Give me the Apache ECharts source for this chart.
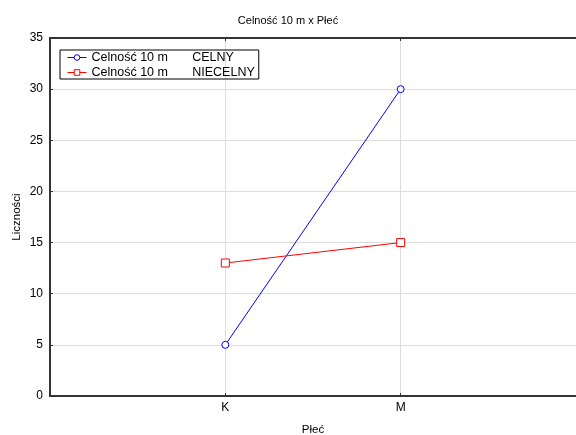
<!DOCTYPE html>
<html>
<head>
<meta charset="utf-8">
<script src="https://cdn.jsdelivr.net/npm/echarts@6/dist/echarts.min.js"></script>
<style>
  html, body { margin: 0; padding: 0; background: #fff; }
  #chart { width: 576px; height: 435px; }
</style>
</head>
<body>
<div id="chart"></div>
<script>
// dane
var categories = ['', 'K', 'M', ''];
var celny = [null, 5, 30, null];
var niecelny = [null, 13, 15, null];
var seriesNames = ['Celność 10 m       CELNY', 'Celność 10 m       NIECELNY'];
var yTicks = [0, 5, 10, 15, 20, 25, 30, 35];

var myChart = echarts.init(document.getElementById('chart'));

var font = 'Liberation Sans, Arial, sans-serif';
// tylko K i M maja linie siatki i znaczniki
var onlyKM = function (i) { return i === 1 || i === 2; };

option = {
  animation: false,
  textStyle: { fontFamily: font, color: '#000' },
  title: {
    text: 'Celność 10 m x Płeć',
    left: 'center',
    top: 10,
    textStyle: { fontFamily: font, fontSize: 11, fontWeight: 'normal', color: '#000' }
  },
  legend: {
    orient: 'vertical',
    left: 60,
    top: 50,
    padding: [1, 4, 0, 7],
    itemGap: 2,
    itemWidth: 19,
    itemHeight: 7,
    borderColor: '#000',
    borderWidth: 1,
    borderRadius: 0,
    lineStyle: { width: 1 },
    itemStyle: { borderWidth: 1 },
    textStyle: { fontFamily: font, fontSize: 12.5, color: '#000' },
    data: seriesNames
  },
  grid: { left: 50, top: 38, right: 0, bottom: 39, containLabel: false, outerBoundsMode: 'none' },
  xAxis: [{
    type: 'category',
    data: categories,
    boundaryGap: false,
    name: 'Płeć',
    nameLocation: 'middle',
    nameGap: 28,
    nameTextStyle: { fontFamily: font, fontSize: 11.5, color: '#000' },
    axisLine: { lineStyle: { color: '#333', width: 2 } },
    axisTick: { inside: true, length: 3, interval: onlyKM, lineStyle: { color: '#333' } },
    axisLabel: { fontFamily: font, fontSize: 12, color: '#000', margin: 6 },
    splitLine: { show: true, interval: onlyKM, lineStyle: { color: '#ddd' } }
  }, {
    type: 'category',
    data: categories,
    boundaryGap: false,
    position: 'top',
    axisLine: { lineStyle: { color: '#333', width: 2 } },
    axisTick: { inside: true, length: 3, interval: onlyKM, lineStyle: { color: '#333' } },
    axisLabel: { show: false },
    splitLine: { show: false }
  }],
  yAxis: {
    type: 'value',
    min: yTicks[0],
    max: yTicks[yTicks.length - 1],
    interval: 5,
    name: 'Liczności',
    nameLocation: 'middle',
    nameGap: 27,
    nameMoveOverlap: false,
    nameTextStyle: { fontFamily: font, fontSize: 11.5, color: '#000' },
    axisLine: { show: true, lineStyle: { color: '#333', width: 2 } },
    axisTick: { show: true, inside: true, length: 3, lineStyle: { color: '#333' } },
    axisLabel: { fontFamily: font, fontSize: 12, color: '#000', margin: 7 },
    splitLine: { show: true, lineStyle: { color: '#ddd' } }
  },
  series: [{
    name: seriesNames[0],
    type: 'line',
    data: celny,
    symbol: 'circle',
    symbolSize: 7,
    color: '#0000ff',
    itemStyle: { color: '#fff', borderColor: '#0000ff', borderWidth: 1 },
    lineStyle: { color: '#0000ff', width: 1 }
  }, {
    name: seriesNames[1],
    type: 'line',
    data: niecelny,
    symbol: 'rect',
    symbolSize: 8,
    color: '#ff0000',
    itemStyle: { color: '#fff', borderColor: '#ff0000', borderWidth: 1 },
    lineStyle: { color: '#ff0000', width: 1 }
  }]
};

myChart.setOption(option);
</script>
</body>
</html>
